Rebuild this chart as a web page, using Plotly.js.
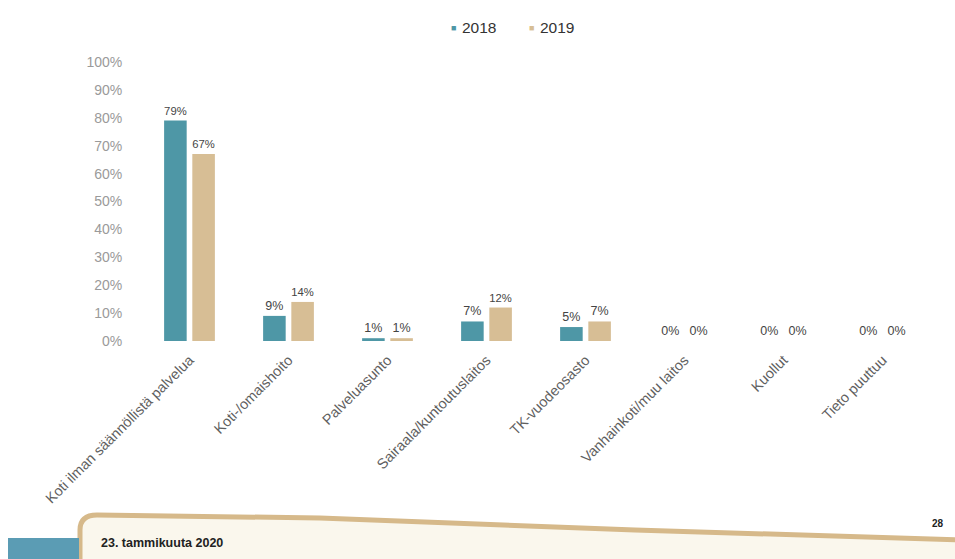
<!DOCTYPE html>
<html>
<head>
<meta charset="utf-8">
<script src="https://cdn.plot.ly/plotly-3.0.1.min.js"></script>
<style>html,body{margin:0;padding:0;background:#fff;}#chart{width:955px;height:559px;}</style>
</head>
<body>
<div id="chart"></div>
<script>
const categories = ["Koti ilman säännöllistä palvelua", "Koti-/omaishoito", "Palveluasunto", "Sairaala/kuntoutuslaitos", "TK-vuodeosasto", "Vanhainkoti/muu laitos", "Kuollut", "Tieto puuttuu"];
const seriesNames = ["2018", "2019"];
const values2018 = [0.79, 0.09, 0.01, 0.07, 0.05, 0, 0, 0];
const values2019 = [0.67, 0.14, 0.01, 0.12, 0.07, 0, 0, 0];
const yTickVals = [0, 0.1, 0.2, 0.3, 0.4, 0.5, 0.6, 0.7, 0.8, 0.9, 1.0];

const W = 955, H = 559;
const M = {l: 140, r: 23, t: 62, b: 218};
const pw = W - M.l - M.r, ph = H - M.t - M.b;
const px = x => (x - M.l) / pw;
const py = y => (H - M.b - y) / ph;
const pt = (x, y) => `${px(x)},${py(y)}`;

const font = "'Liberation Sans', Arial, sans-serif";
const colors = ['#4e97a6', '#d7be95'];

const traces = [values2018, values2019].map((vals, i) => ({
  type: 'bar', name: seriesNames[i], x: categories, y: vals,
  marker: {color: colors[i]}, texttemplate: '%{y:.0%}', textposition: 'outside',
  textfont: {size: 12.5, color: '#444', family: font}, cliponaxis: false,
  showlegend: false
}));

const footerPath = `M ${pt(80, 575)} L ${pt(80, 530)} Q ${pt(80, 515)} ${pt(97, 515)} ` +
  `L ${pt(320, 518)} L ${pt(635, 530)} L ${pt(965, 540)} L ${pt(965, 575)} Z`;

const legendX = [449, 527];
const legendAnn = [];
seriesNames.forEach((n, i) => {
  legendAnn.push({xref: 'paper', yref: 'paper', x: px(legendX[i]), y: py(28), xanchor: 'left', yanchor: 'middle',
    text: '■', showarrow: false, font: {size: 9, color: colors[i], family: font}});
  legendAnn.push({xref: 'paper', yref: 'paper', x: px(legendX[i] + 11), y: py(27), xanchor: 'left', yanchor: 'middle',
    text: n, showarrow: false, font: {size: 15.5, color: '#333', family: font}});
});

const layout = {
  width: W, height: H,
  margin: M,
  paper_bgcolor: '#ffffff', plot_bgcolor: '#ffffff',
  font: {family: font},
  barmode: 'group', bargap: 0.43, bargroupgap: 0.2,
  showlegend: false,
  xaxis: {tickangle: -45, tickfont: {size: 14.5, color: '#5f5f5f', family: font},
          showline: false, showgrid: false, ticks: 'outside', ticklen: 4, tickcolor: 'rgba(0,0,0,0)', zeroline: false},
  yaxis: {range: [0, 1.0], tickvals: yTickVals, tickformat: '.0%',
          tickfont: {size: 14, color: '#9a9a9a', family: font},
          showgrid: false, zeroline: false, showline: false,
          ticks: 'outside', ticklen: 14, tickcolor: 'rgba(0,0,0,0)'},
  shapes: [
    {type: 'path', xref: 'paper', yref: 'paper', path: footerPath,
     fillcolor: '#faf7ed', line: {color: '#d6b98a', width: 5}, layer: 'above'},
    {type: 'rect', xref: 'paper', yref: 'paper', x0: px(8), x1: px(79), y0: py(562), y1: py(538),
     fillcolor: '#5b9cb4', line: {width: 0}, layer: 'above'}
  ],
  annotations: legendAnn.concat([
    {xref: 'paper', yref: 'paper', x: px(99), y: py(543), xanchor: 'left', yanchor: 'middle',
     text: '<b>23. tammikuuta 2020</b>', showarrow: false, font: {size: 12.5, color: '#222', family: font}},
    {xref: 'paper', yref: 'paper', x: px(946), y: py(523), xanchor: 'right', yanchor: 'middle',
     text: '<b>28</b>', showarrow: false, font: {size: 10, color: '#222', family: font}}
  ])
};

Plotly.newPlot('chart', traces, layout, {displayModeBar: false, staticPlot: true});
</script>
</body>
</html>
